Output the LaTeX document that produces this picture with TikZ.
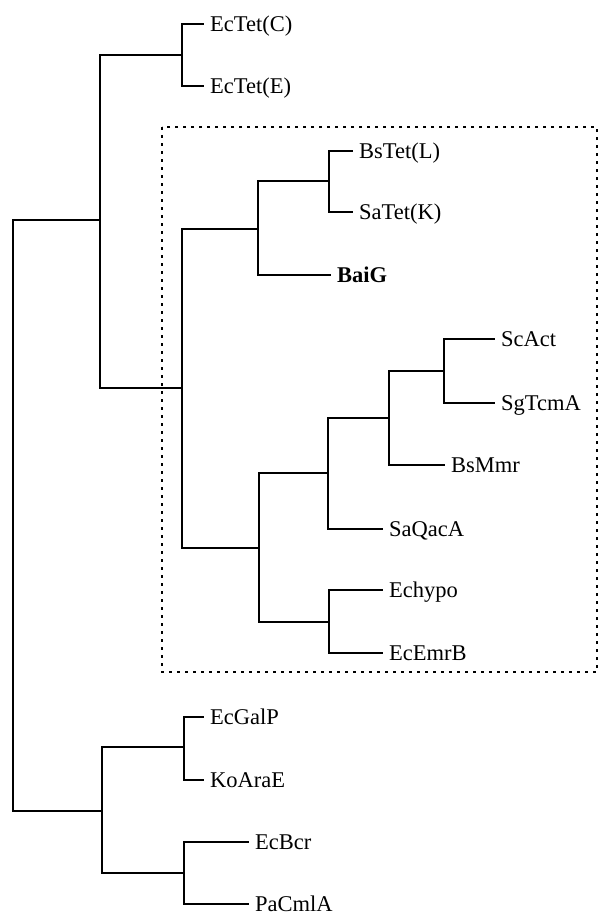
\documentclass[tikz,border=0pt]{standalone}
\usepackage{fontspec}
\setmainfont{Liberation Serif}
\usepackage{tikz}
\tikzset{
  branch/.style={draw=black, line width=2.6pt, line cap=rect},
  leaf/.style={anchor=west, inner xsep=7pt, inner ysep=0pt,
               text height=15pt, text depth=0pt,
               font=\fontsize{22.5}{26}\selectfont},
  clade/.style={draw=black, line width=1.4pt, dash pattern=on 3pt off 5pt}
}
\begin{document}
\begin{tikzpicture}[x=1pt, y=-1pt]
  \useasboundingbox (0,0) rectangle (599,915);
  % inner nodes
  \coordinate (root) at (13,515);
  \coordinate (up) at (100,220);
  \coordinate (tet) at (182,55);
  \coordinate (grp) at (182,388);
  \coordinate (g1) at (258,229);
  \coordinate (g1a) at (329,181);
  \coordinate (g2) at (259,548);
  \coordinate (g2a) at (328,473);
  \coordinate (g2c) at (389,418);
  \coordinate (g2d) at (444,371);
  \coordinate (g2b) at (329,622);
  \coordinate (low) at (102,811);
  \coordinate (b1) at (184,747);
  \coordinate (b2) at (184,873);
  % leaves
  \node[leaf] (tetC) at (203,24) {EcTet(C)};
  \node[leaf] (tetE) at (203,86) {EcTet(E)};
  \node[leaf] (tetL) at (352,151) {BsTet(L)};
  \node[leaf] (tetK) at (352,212) {SaTet(K)};
  \node[leaf, font=\fontsize{22.5}{26}\selectfont\bfseries] (baig) at (330,275) {BaiG};
  \node[leaf] (act) at (494,339) {ScAct};
  \node[leaf] (tcm) at (494,403) {SgTcmA};
  \node[leaf] (mmr) at (444,465) {BsMmr};
  \node[leaf] (qac) at (382,529) {SaQacA};
  \node[leaf] (hypo) at (382,590) {Echypo};
  \node[leaf] (emr) at (382,653) {EcEmrB};
  \node[leaf] (gal) at (203,717) {EcGalP};
  \node[leaf] (ara) at (203,780) {KoAraE};
  \node[leaf] (bcr) at (248,842) {EcBcr};
  \node[leaf] (cml) at (248,904) {PaCmlA};
  % branches
  \draw[branch] (root) |- (up); \draw[branch] (root) |- (low);
  \draw[branch] (up) |- (tet); \draw[branch] (up) |- (grp);
  \draw[branch] (tet) |- (tetC.west); \draw[branch] (tet) |- (tetE.west);
  \draw[branch] (grp) |- (g1); \draw[branch] (grp) |- (g2);
  \draw[branch] (g1) |- (g1a); \draw[branch] (g1) |- (baig.west);
  \draw[branch] (g1a) |- (tetL.west); \draw[branch] (g1a) |- (tetK.west);
  \draw[branch] (g2) |- (g2a); \draw[branch] (g2) |- (g2b);
  \draw[branch] (g2a) |- (g2c); \draw[branch] (g2a) |- (qac.west);
  \draw[branch] (g2c) |- (g2d); \draw[branch] (g2c) |- (mmr.west);
  \draw[branch] (g2d) |- (act.west); \draw[branch] (g2d) |- (tcm.west);
  \draw[branch] (g2b) |- (hypo.west); \draw[branch] (g2b) |- (emr.west);
  \draw[branch] (low) |- (b1); \draw[branch] (low) |- (b2);
  \draw[branch] (b1) |- (gal.west); \draw[branch] (b1) |- (ara.west);
  \draw[branch] (b2) |- (bcr.west); \draw[branch] (b2) |- (cml.west);
  % dotted box round the group
  \draw[clade] (162,127) rectangle (597,672);
\end{tikzpicture}
\end{document}
